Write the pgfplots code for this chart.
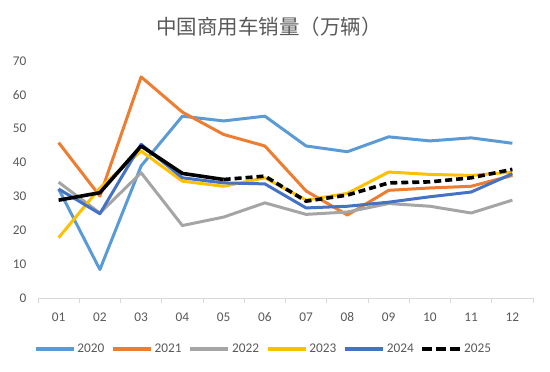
\documentclass[border=0pt]{standalone}
\usepackage{fontspec}
\setmainfont{Carlito}
\newfontfamily\cjk{Noto Sans CJK SC}
\usepackage{pgfplots}
\pgfplotsset{compat=1.18}
\definecolor{cA}{HTML}{5B9BD5}
\definecolor{cB}{HTML}{ED7D31}
\definecolor{cC}{HTML}{A5A5A5}
\definecolor{cD}{HTML}{FFC000}
\definecolor{cE}{HTML}{4472C4}
\definecolor{txt}{HTML}{595959}
\definecolor{axl}{HTML}{D9D9D9}
\begin{document}
\begin{tikzpicture}
\begin{axis}[
  scale only axis, width=495pt, height=237pt,
  xmin=0.5, xmax=12.5, ymin=0, ymax=70,
  axis x line*=bottom, axis y line*=left,
  y axis line style={draw=none},
  x axis line style={draw=axl, line width=0.8pt},
  xtick={1,...,12},
  xticklabels={01,02,03,04,05,06,07,08,09,10,11,12},
  minor xtick={0.5,1.5,...,12.5},
  major tick length=0pt, minor tick length=5pt, tick align=outside,
  minor x tick style={draw=axl, line width=0.8pt},
  ytick={0,10,...,70},
  /pgf/number format/assume math mode=true,
  tick label style={font=\fontsize{13.3}{15}\selectfont, text=txt},
  xticklabel style={yshift=-11pt},
  yticklabel style={xshift=-8pt},
  legend columns=6,
  legend style={draw=none, fill=none, at={(0.4556,-0.2152)}, anchor=center,
    font=\fontsize{13.3}{15}\selectfont, text=txt,
    /tikz/every even column/.append style={column sep=5pt},
    inner sep=0pt},
  legend image code/.code={\draw[#1, line width=3.4pt] (0pt,0pt) -- (38pt,0pt);},
  every axis plot/.append style={line width=3pt, line join=round},
]
\addplot[cA] coordinates {(1,32.2)(2,8.4)(3,39.0)(4,53.7)(5,52.3)(6,53.7)(7,44.9)(8,43.2)(9,47.6)(10,46.4)(11,47.3)(12,45.7)};
\addlegendentry{2020}
\addplot[cB] coordinates {(1,45.9)(2,30.1)(3,65.3)(4,54.9)(5,48.3)(6,44.9)(7,31.6)(8,24.5)(9,31.8)(10,32.5)(11,33.0)(12,36.2)};
\addlegendentry{2021}
\addplot[cC] coordinates {(1,34.2)(2,25.1)(3,37.0)(4,21.4)(5,23.9)(6,28.1)(7,24.7)(8,25.4)(9,27.9)(10,27.1)(11,25.1)(12,28.9)};
\addlegendentry{2022}
\addplot[cD] coordinates {(1,17.8)(2,32.5)(3,43.4)(4,34.5)(5,33.0)(6,35.5)(7,28.9)(8,30.9)(9,37.2)(10,36.5)(11,36.2)(12,37.2)};
\addlegendentry{2023}
\addplot[cE] coordinates {(1,32.2)(2,24.9)(3,45.4)(4,35.5)(5,34.0)(6,33.7)(7,26.6)(8,27.1)(9,28.3)(10,29.9)(11,31.3)(12,36.7)};
\addlegendentry{2024}
\addplot[black, line width=3.6pt, forget plot] coordinates {(1,28.9)(2,31.1)(3,44.9)(4,36.8)(5,35.0)};
\addplot[black, line width=3.6pt, dash pattern=on 7pt off 4pt,
  legend image code/.code={\draw[black, line width=3.4pt, dash pattern=on 10pt off 4pt] (0pt,0pt) -- (38pt,0pt);}]
  coordinates {(5,35.0)(6,36.0)(7,28.6)(8,30.4)(9,34.0)(10,34.3)(11,35.5)(12,38.0)};
\addlegendentry{2025}
\end{axis}
\node[text=txt, font=\cjk\fontsize{20.5}{24}\selectfont] at (231pt,271pt) {中国商用车销量（万辆）};
\pgfresetboundingbox
\path (-38pt,-74pt) rectangle (512pt,298pt);
\end{tikzpicture}
\end{document}
